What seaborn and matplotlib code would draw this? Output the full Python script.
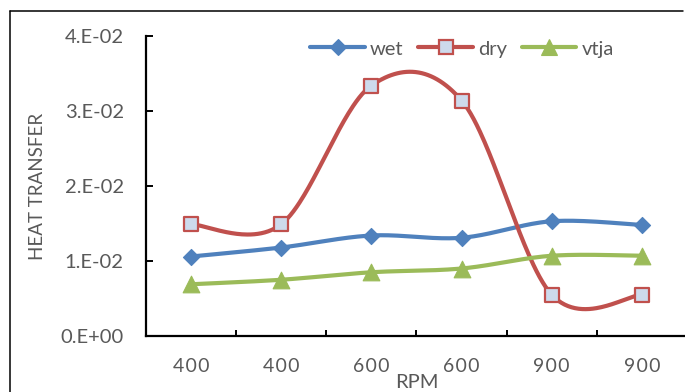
import numpy as np
import pandas as pd
import matplotlib
matplotlib.use("Agg")
import matplotlib.pyplot as plt
from matplotlib.lines import Line2D
import seaborn as sns

# ---- data ----
categories = ["400", "400", "600", "600", "900", "900"]
wet = [0.0106, 0.0118, 0.0134, 0.0131, 0.0153, 0.0148]
dry = [0.0149, 0.0149, 0.0334, 0.0314, 0.0055, 0.0055]
vtja = [0.0069, 0.0075, 0.0085, 0.0090, 0.0107, 0.0107]
series_names = ["wet", "dry", "vtja"]
ytick_values = [0.0, 0.01, 0.02, 0.03, 0.04]
ytick_labels = ["0.E+00", "1.E-02", "2.E-02", "3.E-02", "4.E-02"]
x_label = "RPM"
y_label = "HEAT TRANSFER"

sns.set_style("white")
plt.rcParams["font.family"] = ["Lato", "DejaVu Sans"]
TXT = "#595959"

styles = {
    "wet": dict(color="#4F81BD", marker="D", ms=8.2, mfc="#4F81BD", mec="#4F81BD", mew=0.8),
    "dry": dict(color="#C0504D", marker="s", ms=10.5, mfc="#CDDAEC", mec="#C0504D", mew=1.6),
    "vtja": dict(color="#9BBB59", marker="^", ms=12, mfc="#9BBB59", mec="#9BBB59", mew=0.8),
}


def excel_smooth(xv, yv, n=60):
    P = np.column_stack([xv, yv]).astype(float)
    ext = np.vstack([P[0], P, P[-1]])
    out = []
    t = np.linspace(0, 1, n)[:, None]
    for i in range(len(P) - 1):
        p0, p1, p2, p3 = ext[i], ext[i + 1], ext[i + 2], ext[i + 3]
        c1 = p1 + (p2 - p0) / 6
        c2 = p2 - (p3 - p1) / 6
        seg = (1 - t) ** 3 * p1 + 3 * (1 - t) ** 2 * t * c1 + 3 * (1 - t) * t ** 2 * c2 + t ** 3 * p2
        out.append(seg if i == 0 else seg[1:])
    return np.vstack(out)


fig = plt.figure(figsize=(6.85, 3.92), dpi=100)
W, H = 685, 392
ax = fig.add_axes([146 / W, (H - 336) / H, (687 - 146) / W, 300 / H])

xpos = np.arange(len(categories))
data = {"wet": wet, "dry": dry, "vtja": vtja}
handles = []
for k, name in enumerate(series_names):
    st = styles[name]
    sm = excel_smooth(xpos, data[name])
    df_line = pd.DataFrame({"x": sm[:, 0], "y": sm[:, 1]})
    sns.lineplot(data=df_line, x="x", y="y", sort=False, color=st["color"], lw=3.0,
                 ax=ax, zorder=2 + k * 2, estimator=None)
    df_pts = pd.DataFrame({"x": xpos, "y": data[name]})
    sns.scatterplot(data=df_pts, x="x", y="y", marker=st["marker"], s=st["ms"] ** 2,
                    color=st["mfc"], edgecolor=st["mec"], linewidth=st["mew"],
                    ax=ax, zorder=3 + k * 2, legend=False)
    handles.append(Line2D([], [], color=st["color"], lw=3.0, marker=st["marker"],
                          ms=st["ms"] * 0.95, mfc=st["mfc"], mec=st["mec"], mew=st["mew"],
                          label=name))

ax.set_xlim(-0.5, len(categories) - 0.5)
ax.set_ylim(0, 0.04)
ax.set_yticks(ytick_values)
ax.set_yticklabels(ytick_labels)
ax.set_xticks(np.arange(-0.5, len(categories)))
ax.set_xticklabels([])
ax.set_xticks(xpos, minor=True)
# Excel-style spaced digits
ax.set_xticklabels(["\u200a".join(c) for c in categories], minor=True)

for s in ["top", "right"]:
    ax.spines[s].set_visible(False)
for s in ["left", "bottom"]:
    ax.spines[s].set_color("black")
    ax.spines[s].set_linewidth(1.6)

ax.tick_params(axis="y", which="major", direction="in", length=5, width=1.4,
               color="black", labelsize=14.5, labelcolor=TXT, pad=16, left=True)
ax.tick_params(axis="x", which="major", direction="in", length=4.5, width=1.4,
               color="black", bottom=True)
ax.tick_params(axis="x", which="minor", length=0, labelsize=14, labelcolor=TXT, pad=16)

ax.set_xlabel(x_label, fontsize=14.5, color=TXT)
ax.set_ylabel(y_label, fontsize=13.5, color=TXT)
ax.xaxis.label.set_va("center")
ax.xaxis.set_label_coords(0.5, (336 - 383) / 300)
ax.yaxis.label.set_va("center")
ax.yaxis.set_label_coords((37 - 146) / 541, 0.5)

leg = ax.legend(handles=handles, loc="center", bbox_to_anchor=(462 / W, 1 - 49 / H),
                bbox_transform=fig.transFigure, ncol=3, frameon=False, fontsize=14.5,
                handlelength=2.7, handletextpad=0.25, columnspacing=0.75,
                borderpad=0, borderaxespad=0)
for t in leg.get_texts():
    t.set_color(TXT)

# outer chart frame (top and left visible)
fig.add_artist(Line2D([10 / W, 683 / W], [1 - 11 / H, 1 - 11 / H], color="black", lw=1.1,
                      transform=fig.transFigure))
fig.add_artist(Line2D([10 / W, 10 / W], [1 - 11 / H, 0], color="black", lw=1.1,
                      transform=fig.transFigure))

fig.savefig("out.png", dpi=100)
